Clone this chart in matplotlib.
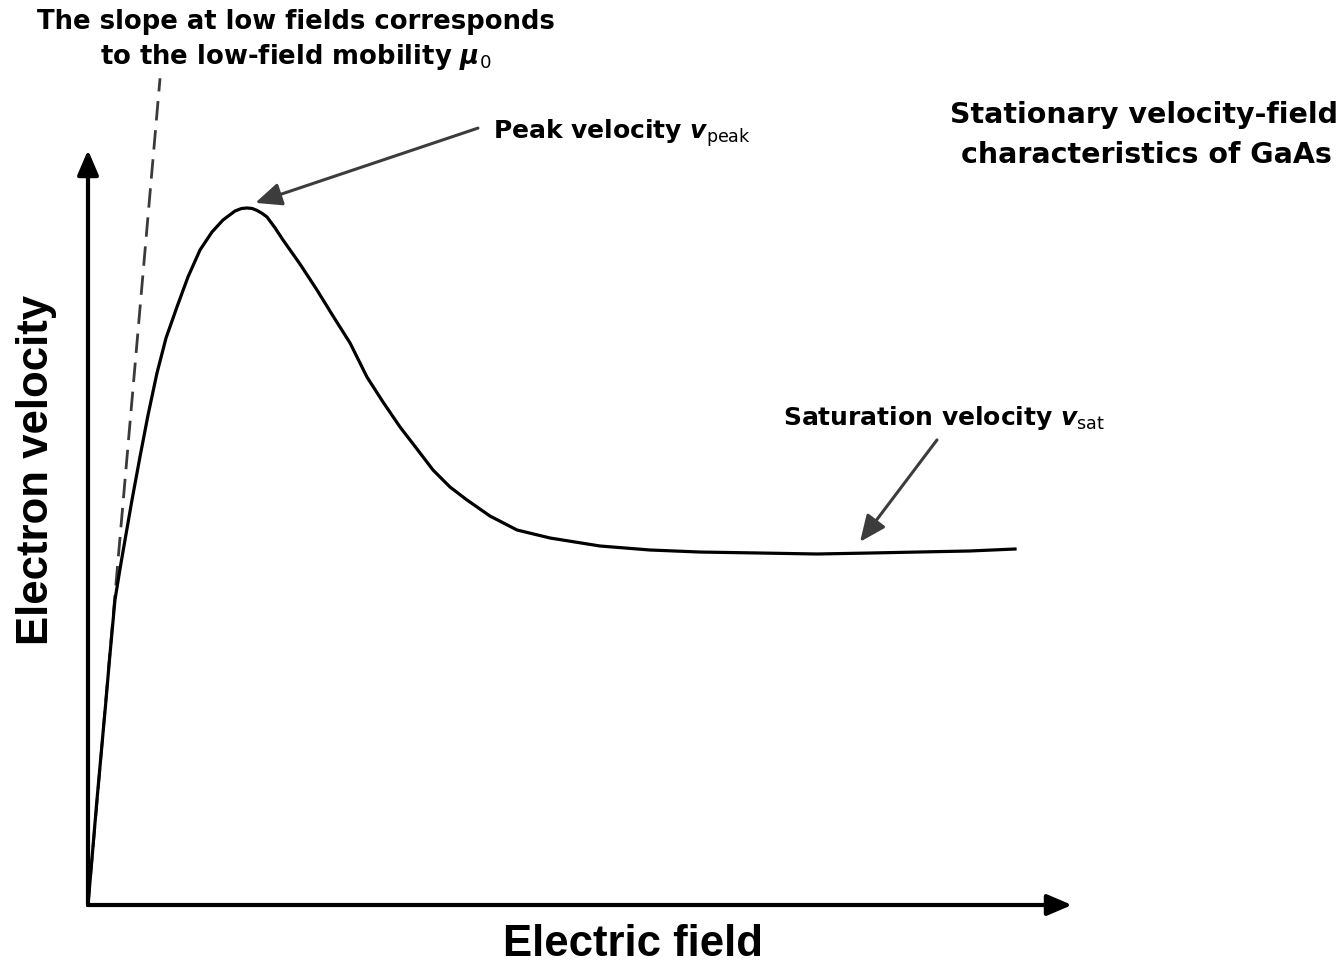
import matplotlib
matplotlib.use("Agg")
import matplotlib.pyplot as plt

plt.rcParams['font.family'] = ['DejaVu Sans']
plt.rcParams['mathtext.fontset'] = 'custom'
plt.rcParams['mathtext.rm'] = 'DejaVu Sans'
plt.rcParams['mathtext.it'] = 'DejaVu Sans:italic:bold'
plt.rcParams['mathtext.bf'] = 'DejaVu Sans:bold'

# Velocity-field characteristic of GaAs (arbitrary units)
field = [0.000, 0.091, 0.183, 0.218, 0.274, 0.325, 0.376, 0.447, 0.528, 0.610,
         0.701, 0.793, 0.904, 1.016, 1.138, 1.260, 1.372, 1.494, 1.560, 1.616,
         1.670, 1.717, 1.770, 1.819, 1.900, 1.982, 2.154, 2.327, 2.490, 2.663,
         2.835, 2.998, 3.171, 3.343, 3.506, 3.679, 3.852, 4.085, 4.360, 4.695,
         5.203, 5.711, 6.220, 6.829, 7.409, 7.947, 8.425, 8.963, 9.421]
velocity = [0.000, 1.391, 2.715, 3.245, 4.040, 4.450, 4.834, 5.364, 5.934, 6.490,
            7.046, 7.510, 7.921, 8.318, 8.675, 8.914, 9.073, 9.192, 9.225, 9.232,
            9.225, 9.200, 9.160, 9.113, 8.970, 8.808, 8.490, 8.146, 7.801, 7.444,
            6.993, 6.662, 6.331, 6.040, 5.762, 5.536, 5.364, 5.152, 4.967, 4.861,
            4.755, 4.702, 4.675, 4.662, 4.649, 4.662, 4.675, 4.689, 4.715]
# low-field mobility tangent (dashed)
tangent_field = [0.0, 0.732]
tangent_velocity = [0.0, 10.95]

W, H = 1344, 967
fig = plt.figure(figsize=(W / 100, H / 100), dpi=100)
fig.patch.set_facecolor('white')

ax = fig.add_axes([88 / W, (H - 905) / H, (1072 - 88) / W, (905 - 150) / H])
ax.set_xlim(0, 10)
ax.set_ylim(0, 10)
ax.axis('off')

ax.plot(field, velocity, color='black', lw=2.3, solid_joinstyle='round', clip_on=False, zorder=3)
ax.plot(tangent_field, tangent_velocity, color='#3a3a3a', lw=2.0, ls=(0, (7, 3.5)), clip_on=False, zorder=2)

# Axis arrows
axis_style = dict(arrowstyle='-|>,head_length=0.75,head_width=0.32', color='black', lw=3.0,
                  mutation_scale=20, shrinkA=0, shrinkB=0)
ax.annotate('', xy=(1, 0), xytext=(0, 0), xycoords='axes fraction',
            arrowprops=axis_style, annotation_clip=False)
ax.annotate('', xy=(0, 1), xytext=(0, 0), xycoords='axes fraction',
            arrowprops=axis_style, annotation_clip=False)

# Pointer arrows
ptr_style = dict(arrowstyle='-|>,head_length=0.8,head_width=0.35', color='#3c3c3c', lw=2.2,
                 mutation_scale=20, shrinkA=0, shrinkB=0)
ax.annotate('', xy=(1.70, 9.30), xytext=(3.963, 10.29), arrowprops=ptr_style, annotation_clip=False)
ax.annotate('', xy=(7.846, 4.81), xytext=(8.628, 6.16), arrowprops=ptr_style, annotation_clip=False)

def ftext(x, y, s, **kw):
    fig.text(x / W, 1 - y / H, s, **kw)

fs = 18
ftext(296, 22, 'The slope at low fields corresponds', ha='center', va='center', fontsize=18.6, fontweight='bold')
ftext(296, 57, r'to the low-field mobility $\mathit{\mu}_{0}$', ha='center', va='center', fontsize=18.6, fontweight='bold')
ftext(493, 133, r'Peak velocity $\mathit{v}_{\mathrm{peak}}$', ha='left', va='center', fontsize=fs, fontweight='bold')
ftext(783, 418, r'Saturation velocity $\mathit{v}_{\mathrm{sat}}$', ha='left', va='center', fontsize=fs, fontweight='bold')
ftext(1144, 115, 'Stationary velocity-field', ha='center', va='center', fontsize=20.5, fontweight='bold')
ftext(1146, 155, 'characteristics of GaAs', ha='center', va='center', fontsize=20.5, fontweight='bold')
big = dict(fontsize=31.5, fontweight='bold', family=['Liberation Sans', 'DejaVu Sans'])
ftext(37, 470, 'Electron velocity', ha='center', va='center', rotation=90, **big)
ftext(633, 945, 'Electric field', ha='center', va='center', **big)

fig.savefig('out.png', dpi=100, facecolor='white')
